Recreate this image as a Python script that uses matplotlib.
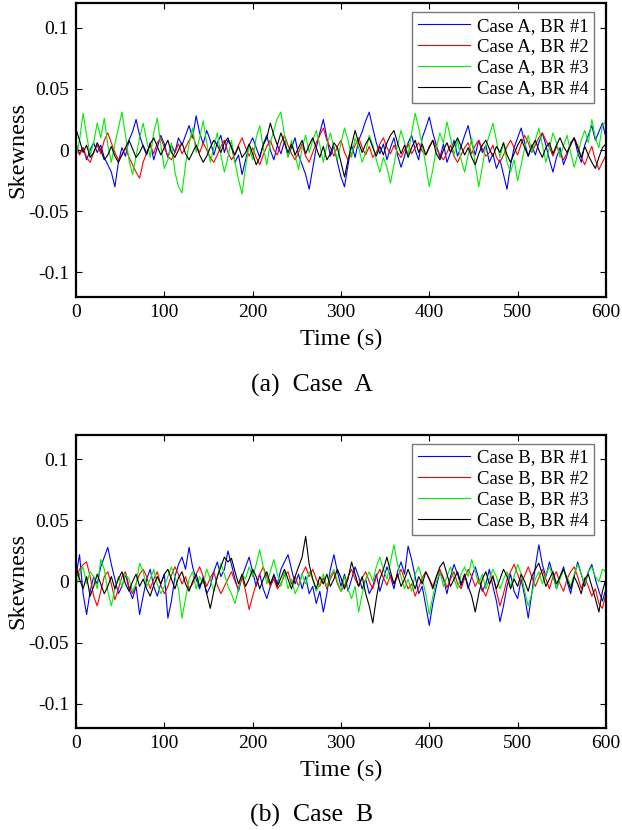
import numpy as np
import matplotlib
matplotlib.use("Agg")
import matplotlib.pyplot as plt

plt.rcParams['font.family'] = ['Liberation Serif', 'DejaVu Serif']

# time axis: one sample every 4 s
time = np.arange(0, 601, 4)

# skewness values in thousandths
a_br1 = [5, -3, 2, -8, 0, 6, -2, 4, -6, -12,
         -18, -30, -10, 2, -5, 8, 15, 25, 12, 3,
         -4, 6, -8, 2, 12, 5, -6, 4, -2, 10,
         4, 12, 20, 10, 28, 14, 5, 16, 8, -4,
         6, 12, -2, 8, 3, -10, -4, -20, -8, 4,
         10, 2, -6, 5, 12, 0, -8, 4, -3, 7,
         -5, 2, 10, -4, -12, -20, -32, -15, 2, 14,
         25, 10, -5, 3, -10, -22, -30, -12, 4, -6,
         8, 15, 24, 31, 18, 6, -3, 5, -8, 2,
         10, -4, -14, -5, 6, 12, 0, -8, 10, 18,
         27, 14, 4, -6, 5, -10, -2, 8, -5, 3,
         12, 20, 6, -4, 8, -2, 4, -10, -3, -15,
         -8, -20, -32, -12, 2, 10, 18, 6, -5, 4,
         -4, 6, 14, 4, -8, -18, -6, 2, -12, -4,
         6, 10, -2, -10, 4, 12, 20, 8, 15, 22,
         10]
a_br2 = [3, -4, 2, -6, -10, -2, 4, -3, 8, 14,
         6, -2, -8, -4, 2, -6, -12, -18, -23, -10,
         -2, 4, -3, 6, 10, 2, -5, -8, -2, 5,
         -3, 2, 8, 12, 4, -2, 6, 0, -6, -10,
         -4, 3, 8, -2, -8, -3, 4, 10, 2, -5,
         2, -6, -12, -4, 3, 8, 0, -4, 6, 12,
         4, -3, -8, -2, 5, -5, -10, -2, 6, 12,
         18, 8, 2, -5, 3, 8, -2, -8, -3, 4,
         10, 2, -4, 3, -6, -2, 5, 10, 2, -3,
         4, -2, -6, 0, 5, -3, 2, 6, -1, -4,
         3, 8, 2, -4, -8, -2, 4, -5, -10, -4,
         2, 6, -3, 4, 8, 1, -5, -2, 4, -6,
         -10, -4, 3, 8, 2, -4, 5, 12, 6, -2,
         4, 10, 14, 8, 2, -5, 3, -3, -8, -2,
         5, 10, 4, -6, -12, -4, 3, -8, -16, -10,
         -4]
a_br3 = [-5, 8, 30, 12, -4, 6, 22, 10, 26, 4,
         -10, 5, 18, 31, 12, -8, -20, -5, 10, 22,
         8, -6, 14, 26, 4, -15, -8, 6, -18, -30,
         -35, -12, 5, 18, -2, 10, 24, 6, -10, 2,
         14, -4, -18, -6, 8, -10, -24, -36, -14, 4,
         -8, 10, 20, 2, -12, 6, 16, 26, 31, 12,
         -6, 8, -4, -16, 2, 12, -2, 8, 16, 4,
         -10, 4, 14, 2, -8, 6, 18, 8, -6, 10,
         2, -10, -2, 12, 4, -8, -18, -6, -14, -27,
         -12, 4, 16, 6, -4, 14, 30, 18, 4, -12,
         -30, -16, 2, 14, 6, 23, 10, -4, 8, -8,
         -18, -4, 10, -12, -30, -14, 4, 12, 22, 8,
         -6, 6, -10, -18, -8, -25, -12, 2, 12, -2,
         8, 18, 4, -10, 2, 14, 6, -6, 4, 12,
         -2, -14, -4, 8, 16, 6, 25, 10, 2, 20,
         24]
a_br4 = [17, 8, -2, 4, -6, -2, 6, 0, -8, -4,
         3, -5, -10, -4, 2, 8, 1, -6, -2, 4,
         -3, 5, 10, 3, -4, 2, 8, -2, -6, 0,
         6, -3, -8, -2, 4, -4, -10, -5, 2, 8,
         4, -2, 6, 10, 2, -4, 3, -6, -2, 5,
         -3, -12, -6, 4, 10, 22, 12, 4, 14, 6,
         -2, 5, -4, 2, 8, -3, 4, 10, 2, -6,
         3, -8, -3, 6, 2, -10, -22, -8, 4, 16,
         6, -2, 5, 10, 2, -5, 3, -4, 6, 12,
         16, 6, -3, 4, -6, 2, 8, -2, 5, -4,
         2, 8, -3, -8, 0, 6, -2, 4, 10, 3,
         -4, 2, -6, -12, -3, 4, 8, 1, -5, 3,
         -2, 6, -4, -10, -3, 4, 9, 2, -5, 3,
         8, 0, -6, 2, 6, -3, 4, 10, 3, -2,
         4, 10, 2, -6, 3, -4, -10, -15, -6, 2,
         5]

b_br1 = [5, 22, -10, -27, -8, 4, -2, 12, 20, 28,
         14, 2, -10, -4, 6, -6, -14, -4, -27, -12,
         2, 10, -4, -12, -2, 6, -30, -16, 4, 14,
         20, 10, 28, 12, 2, -6, 4, -10, -4, 8,
         16, 4, 10, 25, 14, 2, -8, 4, 12, 20,
         8, -4, 6, -6, -14, -4, 6, -2, 10, 16,
         22, 10, -2, 6, -6, 4, -10, -4, -18, -8,
         -25, -10, 10, 22, 8, -4, 6, -8, 2, 12,
         4, -6, 2, -10, -4, 6, -8, 2, 12, 4,
         -6, 8, 16, 6, 29, 18, 4, -10, -4, -20,
         -36, -18, -4, 8, 2, -10, 4, 14, 6, -4,
         6, -6, 4, 12, 2, -8, -2, 10, -4, -16,
         -33, -20, -4, 6, -8, -14, 2, -12, -30, -10,
         12, 30, 14, 4, 16, 6, -6, 4, 12, 0,
         -10, 4, 16, 6, -4, 8, 14, 2, -8, -16,
         -6]
b_br2 = [2, 10, 14, 16, 4, -12, -20, -8, 4, 8,
         -2, -15, -6, 4, 8, -4, -10, -2, 6, 10,
         4, -6, 2, 8, -3, -10, -4, 5, 12, 6,
         -2, 4, -6, -2, 6, 12, 4, -4, 3, 8,
         -3, -10, -4, 2, 8, 0, -6, 4, -8, -23,
         -12, -2, 6, 12, 4, -4, 2, -6, -2, 5,
         8, -2, 4, -4, 6, 12, 4, 10, 2, -4,
         3, -6, 2, 8, -2, -8, -3, 4, 10, 2,
         -4, 3, 8, 0, -6, 4, 10, 3, -3, 5,
         -2, 4, 10, 2, -6, -2, -12, -5, 3, 8,
         2, -4, 4, 10, 3, -5, 2, 8, -2, -6,
         3, 10, 4, -4, 2, -6, -12, -3, 5, -8,
         -20, -10, 2, 8, 14, 6, -2, 5, 12, 4,
         -4, 3, 10, 2, -6, 4, 8, -2, -8, 2,
         8, 12, 4, -6, 3, -4, -12, -6, -18, -22,
         -10]
b_br3 = [-4, 6, 12, -2, 8, 4, -6, 18, 10, -8,
         -20, -6, 4, -4, 6, 2, -8, -2, 15, 8,
         -4, 2, 10, -2, -10, -4, 4, 12, 4, -6,
         -30, -14, 2, 8, -6, 4, -2, 10, 2, -8,
         4, 15, 6, -4, -10, -18, -6, 6, 2, 12,
         4, 14, 26, 12, -2, 8, 18, 6, -4, 8,
         -6, 2, -10, -4, 6, -2, 8, 2, -8, -2,
         6, -4, 4, 10, 0, -8, 4, -6, -14, -4,
         -25, -10, 2, 8, 0, 12, 20, 10, 2, 16,
         30, 14, 4, -6, 2, -8, 6, 12, 2, -10,
         -27, -12, 0, 8, -4, 4, 12, 2, -6, 6,
         12, 4, 18, 8, -2, 6, -6, 2, 10, 4,
         -6, 2, 8, -4, 4, 14, 6, -8, -20, -10,
         2, 8, -2, 6, 12, 4, -6, 2, 10, 4,
         -4, 6, 14, 6, -2, 8, 12, 4, 0, 10,
         8]
b_br4 = [13, 2, -6, 4, -12, -4, 6, -2, -10, -4,
         4, -6, 2, 8, -2, -8, 0, 6, -4, 2,
         -6, -12, -3, 4, -2, 6, 10, 2, -6, 3,
         8, -2, -8, 0, 6, -4, 2, -10, -22, -8,
         4, 12, 20, 16, 19, 8, -2, 6, -4, 2,
         10, 4, -6, 2, 8, -2, 5, -4, 3, 10,
         2, -6, 4, 12, 20, 37, 14, 2, -6, 4,
         -2, 6, -4, 2, 10, 3, -6, 2, 16, 6,
         -4, 4, -10, -20, -34, -14, 2, 10, 20, 8,
         -2, 6, -4, 2, 10, 2, -6, 4, -2, 8,
         2, -6, 4, 12, 16, 6, -4, 2, 8, -2,
         6, -4, -12, -25, -10, 2, 8, -2, 4, -6,
         2, 10, 4, -6, 2, -4, 6, 0, -8, 4,
         10, 15, 6, -4, 2, 8, -2, 4, 10, 2,
         -6, 4, -2, -10, 2, 6, -4, -14, -25, -8,
         2]

colors = ['#0000ff', '#ff0000', '#00ee00', '#000000']
br_labels = ['BR #1', 'BR #2', 'BR #3', 'BR #4']
cases = [('A', [a_br1, a_br2, a_br3, a_br4], '(a)  Case  A'),
         ('B', [b_br1, b_br2, b_br3, b_br4], '(b)  Case  B')]

fig = plt.figure(figsize=(6.22, 8.3), dpi=100)
axes_rects = [[0.1222, 0.6422, 0.852, 0.354],
              [0.1222, 0.1229, 0.852, 0.353]]

for (name, series, caption), rect in zip(cases, axes_rects):
    ax = fig.add_axes(rect)
    for vals, c, lab in zip(series, colors, br_labels):
        ax.plot(time, np.array(vals) / 1000.0, color=c, lw=0.8,
                label='Case %s, %s' % (name, lab))
    ax.set_xlim(0, 600)
    ax.set_ylim(-0.12, 0.12)
    ax.set_xticks([0, 100, 200, 300, 400, 500, 600])
    ax.set_yticks([-0.1, -0.05, 0, 0.05, 0.1])
    ax.set_yticklabels(['-0.1', '-0.05', '0', '0.05', '0.1'])
    ax.tick_params(direction='in', top=True, right=True, length=4,
                   width=0.8, labelsize=14, pad=5)
    for sp in ax.spines.values():
        sp.set_linewidth(1.6)
    ax.set_xlabel('Time (s)', fontsize=17.5, labelpad=6)
    ax.set_ylabel('Skewness', fontsize=17.5, labelpad=0)
    leg = ax.legend(loc='upper right', bbox_to_anchor=(0.978, 0.97),
                    fontsize=13.5, frameon=True, fancybox=False,
                    handlelength=2.8, labelspacing=0.2, borderpad=0.3,
                    handletextpad=0.35, borderaxespad=0)
    leg.get_frame().set_edgecolor('#555555')
    leg.get_frame().set_linewidth(1.0)
    ax.text(0.445, -0.30, caption, transform=ax.transAxes,
            ha='center', va='center', fontsize=18.5)

fig.savefig('out.png', dpi=100)
